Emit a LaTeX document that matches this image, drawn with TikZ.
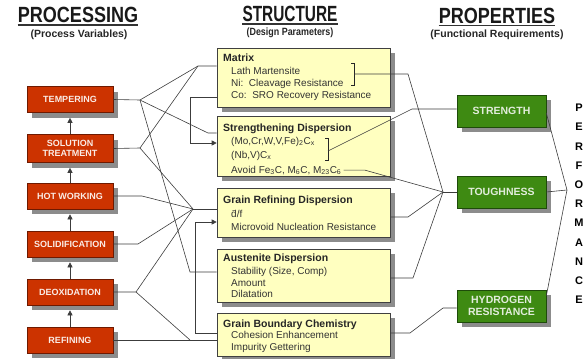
\documentclass[tikz,border=0pt]{standalone}
\usepackage{fontspec}
\setmainfont{Liberation Sans}
\usepackage{graphicx}
\usetikzlibrary{shadows,arrows.meta,calc}

\definecolor{procred}{RGB}{204,51,0}
\definecolor{procredline}{RGB}{110,25,0}
\definecolor{propgreen}{RGB}{62,138,18}
\definecolor{propgreenline}{RGB}{30,75,10}
\definecolor{structfill}{RGB}{255,255,192}
\definecolor{wirecol}{RGB}{60,60,60}
\definecolor{shade}{RGB}{140,140,140}

\tikzset{
  boxshadow/.style={drop shadow={shadow xshift=5pt,shadow yshift=-5pt,fill=shade,opacity=1}},
  procbox/.style={draw=procredline, fill=procred, line width=0.6pt, boxshadow,
    text=white!90!procred, font=\bfseries\fontsize{9}{10}\selectfont, align=center,
    minimum width=86pt, minimum height=26pt, inner sep=1pt},
  propbox/.style={draw=propgreenline, fill=propgreen, line width=0.6pt, boxshadow,
    text=white!85!propgreen, font=\bfseries\fontsize{10.5}{12}\selectfont, align=center,
    minimum width=89pt, minimum height=32pt, inner sep=1pt},
  structbox/.style={draw=black!75, fill=structfill, line width=0.6pt, boxshadow,
    minimum width=173pt, inner sep=0pt},
  shead/.style={anchor=base west, font=\bfseries\fontsize{10.5}{12}\selectfont, inner sep=0pt, text=black!85},
  sline/.style={anchor=base west, font=\fontsize{10}{12}\selectfont, inner sep=0pt, text=black!80},
  wire/.style={draw=wirecol, line width=0.6pt},
  bracket/.style={draw=black!85, line width=0.9pt},
  flow/.style={wire, -{Triangle[length=5pt,width=5pt]}},
  title/.style={font=\bfseries\fontsize{22}{24}\selectfont, inner sep=0pt, text=black!90},
  titlerule/.style={draw=black!80, line width=1.6pt},
  subtitle/.style={font=\bfseries\fontsize{10.5}{12}\selectfont, inner sep=0pt, text=black!85},
  perf/.style={font=\bfseries\fontsize{11}{12}\selectfont, inner sep=0pt, text=black},
}

\begin{document}
\begin{tikzpicture}[x=1pt,y=-1pt]
\useasboundingbox (0,0) rectangle (587,359);

% column headings
\node[title] (tproc) at (78,15) {\scalebox{0.82}[1]{PROCESSING}};
\draw[titlerule] ([yshift=-2pt]tproc.south west) -- ([yshift=-2pt]tproc.south east);
\node[subtitle] (sproc) at (79,35) {(Process Variables)};

\node[title] (tstruct) at (290,14) {\scalebox{0.7}[1]{STRUCTURE}};
\draw[titlerule] ([yshift=-2pt]tstruct.south west) -- ([yshift=-2pt]tstruct.south east);
\node[subtitle] (sstruct) at (290,33) {\scalebox{0.85}[1]{(Design Parameters)}};

\node[title] (tprop) at (497,15.5) {\scalebox{0.82}[1]{PROPERTIES}};
\draw[titlerule] ([yshift=-2pt]tprop.south west) -- ([yshift=-2pt]tprop.south east);
\node[subtitle] (sprop) at (497,35) {(Functional Requirements)};

% processing steps
\node[procbox] (tmp) at (70,99.5) {TEMPERING};
\node[procbox, minimum height=28pt] (sol) at (70,148.5) {SOLUTION\\TREATMENT};
\node[procbox] (hot) at (70,196) {HOT WORKING};
\node[procbox] (sdf) at (70,244) {SOLIDIFICATION};
\node[procbox] (deo) at (70,292) {DEOXIDATION};
\node[procbox] (ref) at (70,340) {REFINING};

\foreach \a/\b in {ref/deo,deo/sdf,sdf/hot,hot/sol,sol/tmp}
  \draw[flow, shorten >=5pt] (\a.north) -- (\b.south);

% structure boxes
\node[structbox, minimum height=59pt] (mtx) at (303.5,77.5) {};
\node[structbox, minimum height=60pt] (sdp) at (303.5,146) {};
\node[structbox, minimum height=49pt] (grd) at (303.5,212.5) {};
\node[structbox, minimum height=53pt] (aus) at (303.5,275.5) {};
\node[structbox, minimum height=43pt] (gbc) at (303.5,334.5) {};

\node[shead] (mtx0) at (223,61) {Matrix};
\node[sline] (mtx1) at (231,74) {Lath Martensite};
\node[sline] (mtx2) at (231,86) {Ni:\ \ Cleavage Resistance};
\node[sline] (mtx3) at (231,98) {Co:\ \ SRO Recovery Resistance};

\node[shead] (sdp0) at (223,131) {Strengthening Dispersion};
\node[sline] (sdp1) at (231,144) {(Mo,Cr,W,V,Fe)\textsubscript{2}C\textsubscript{x}};
\node[sline] (sdp2) at (231,158) {(Nb,V)C\textsubscript{x}};
\node[sline] (sdp3) at (231,173) {Avoid Fe\textsubscript{3}C, M\textsubscript{6}C, M\textsubscript{23}C\textsubscript{6}};

\node[shead] (grd0) at (223,203) {Grain Refining Dispersion};
\node[sline] (grd1) at (231,217) {\={d}/f};
\node[sline] (grd2) at (231,230) {Microvoid Nucleation Resistance};

\node[shead] (aus0) at (223,261) {Austenite Dispersion};
\node[sline] (aus1) at (231,274) {Stability (Size, Comp)};
\node[sline] (aus2) at (231,286) {Amount};
\node[sline] (aus3) at (231,297) {Dilatation};

\node[shead] (gbc0) at (223,327) {Grain Boundary Chemistry};
\node[sline] (gbc1) at (231,338) {Cohesion Enhancement};
\node[sline] (gbc2) at (231,350) {Impurity Gettering};

% brackets grouping the matrix and carbide lines
\draw[bracket] (351,63) -- (354,63) -- (354,85) -- (351,85);
\coordinate (brM) at (354,74);
\draw[bracket] (325,138) -- (328,138) -- (328,160) -- (325,160);
\coordinate (brS) at (328,151);

% property boxes
\node[propbox] (str) at (501.5,111) {STRENGTH};
\node[propbox] (tou) at (501.5,192) {TOUGHNESS};
\node[propbox] (hyd) at (501.5,306) {HYDROGEN\\RESISTANCE};

\foreach \l [count=\i from 0] in {P,E,R,F,O,R,M,A,N,C,E}
  \node[perf] (perf\i) at (579,{108+19.2*\i}) {\l};

% processing -> structure links
\coordinate (jT) at (140,100);
\coordinate (jS) at (140,148);
\coordinate (jG) at (193,209);
\coordinate (jD) at (136,292);
\coordinate (kM) at (198,66);
\draw[wire] (tmp.east) -- (jT) -- (kM) -- (mtx.west |- kM);
\draw[wire] (jT) -- (208,133) -- (sdp.west |- 0,133);
\draw[wire] (jT) -- (190,272) -- (aus.west |- 0,272);
\draw[wire] (sol.east) -- (jS) -- (kM);
\draw[wire] (jS) -- (jG);
\draw[wire] (hot.east) -- (142,196) -- (jG);
\draw[wire] (sdf.east) -- (138,244) -- (jG);
\draw[wire] (deo.east) -- (jD) -- (jG);
\draw[wire] (jD) -- (190,340);
\draw[wire] (ref.east) -- (gbc.west |- ref.east);
\draw[wire] (jG) -- (grd.west |- jG);

% feedback between structure boxes
\draw[flow] (mtx.west |- 0,97) -- (190,97) -- (190,143) -- (sdp.west |- 0,143);
\draw[flow] (gbc.west |- 0,333) -- (195,333) -- (195,222) -- (grd.west |- 0,222);

% structure -> property links
\coordinate (jTo) at (443,192);
\draw[wire] (brM) -- (408,74) -- (jTo);
\draw[wire] (brS) -- (412,109) -- (str.west |- 0,109);
\draw[wire] ([xshift=2pt]sdp3.east) -- (sdp3.east -| 365,0) -- (jTo);
\draw[wire] (grd.east |- 0,217) -- (408,217) -- (jTo);
\draw[wire] (aus.east |- 0,278) -- (413,278) -- (jTo);
\draw[wire] (jTo) -- (tou.west);
\draw[wire] (gbc.east |- 0,333) -- (410,333) -- (443,308) -- (hyd.west |- 0,308);

% properties -> performance
\coordinate (jP) at (567,190);
\draw[wire] (str.east |- 0,113) -- (jP);
\draw[wire] (tou.east) -- (jP);
\draw[wire] (hyd.east |- 0,296) -- (jP);
\end{tikzpicture}
\end{document}
